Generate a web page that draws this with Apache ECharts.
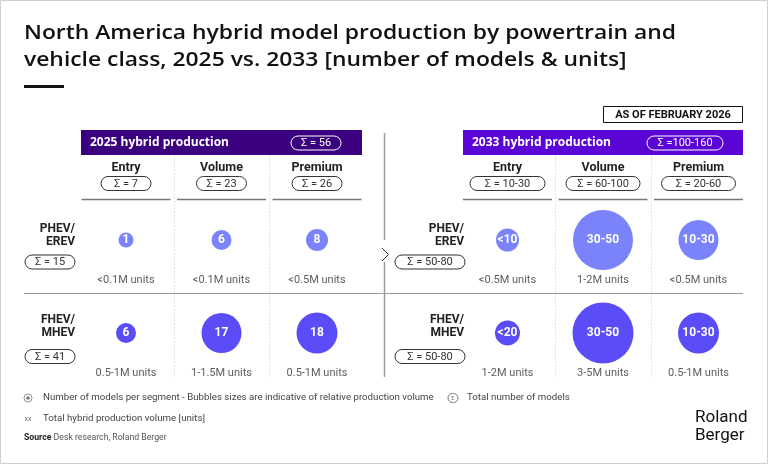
<!DOCTYPE html>
<html><head><meta charset="utf-8">
<script src="https://cdn.jsdelivr.net/npm/echarts@6/dist/echarts.min.js"></script>
<style>html,body{margin:0;padding:0;background:#fff}#c{width:768px;height:464px}</style>
</head><body><div id="c"></div>
<script>
// ---- data ----
const vehicleClasses = ['Entry', 'Volume', 'Premium'];
const powertrains = ['PHEV/EREV', 'FHEV/MHEV'];
const models2025 = [['1', '6', '8'], ['6', '17', '18']];
const models2033 = [['<10', '30-50', '10-30'], ['<20', '30-50', '10-30']];
const relVolume2025 = [[15, 20, 22], [20, 40, 41]];
const relVolume2033 = [[23, 60, 40], [25, 61, 41]];
const units2025 = [['<0.1M units', '<0.1M units', '<0.5M units'], ['0.5-1M units', '1-1.5M units', '0.5-1M units']];
const units2033 = [['<0.5M units', '1-2M units', '<0.5M units'], ['1-2M units', '3-5M units', '0.5-1M units']];
const classTotals2025 = ['7', '23', '26'];
const classTotals2033 = ['10-30', '60-100', '20-60'];
const rowTotals2025 = ['15', '41'];
const rowTotals2033 = ['50-80', '50-80'];
const total2025 = '56';
const total2033 = '100-160';

// ---- style ----
const F = 'Roboto, "Noto Sans", sans-serif';
const FO = '"Open Sans", Roboto, sans-serif';
const rowColors = ['#7b83fa', '#5a4cf6'];
const panels = [
  { left: 78.25, barX: 81, barW: 281, color: '#3a0080', title: '2025 hybrid production', total: 'Σ = ' + total2025, pillCx: 316, pillW: 50,
    classT: classTotals2025, rowT: rowTotals2025, models: models2025, rel: relVolume2025, units: units2025, pillWs: [50, 50, 50], rowLabelX: 75, rowPillCx: 50, rowPillW: 50 },
  { left: 459.75, barX: 463, barW: 280, color: '#5a05d6', title: '2033 hybrid production', total: 'Σ =' + total2033, pillCx: 685, pillW: 76,
    classT: classTotals2033, rowT: rowTotals2033, models: models2033, rel: relVolume2033, units: units2033, pillWs: [75, 74, 74], rowLabelX: 464, rowPillCx: 430, rowPillW: 70 }
];
const colStep = 95.5, gridW = 286.5, gridTop = 193.5, gridH = 186;

const mctx = document.createElement('canvas').getContext('2d');
function measure(text, font) { mctx.font = font; return mctx.measureText(text).width; }

function txt(x, y, text, font, fill, align) {
  return { type: 'text', x: x, y: y, silent: true,
    style: { text: text, font: font, fill: fill || '#222', align: align || 'left', verticalAlign: 'middle',
      textAlign: align || 'left', textVerticalAlign: 'middle' } };
}
function pill(cx, cy, w, h, text, stroke, font) {
  return [
    { type: 'rect', shape: { x: cx - w / 2, y: cy - h / 2, width: w, height: h, r: h / 2 }, style: { fill: 'transparent', stroke: stroke, lineWidth: 1 }, silent: true },
    txt(cx, cy + 0.5, text, font || '11px ' + F, stroke, 'center')
  ];
}
function line(x1, y1, x2, y2, stroke, lw, dash) {
  return { type: 'line', shape: { x1: x1, y1: y1, x2: x2, y2: y2 }, style: { stroke: stroke, lineWidth: lw || 1, lineDash: dash || null }, silent: true };
}

let g = [];
g.push({ type: 'rect', shape: { x: 0.5, y: 0.5, width: 767, height: 463 }, style: { fill: '#fff', stroke: '#cfcfcf', lineWidth: 1 }, silent: true, z: -10 });
const titleFont = '600 20px ' + FO;
const title1 = 'North America hybrid model production by powertrain and';
const title2 = 'vehicle class, 2025 vs. 2033 [number of models & units]';
const tScale = 652 / measure(title1, titleFont);
const t1 = txt(24, 33, title1, titleFont, '#111'); t1.scaleX = tScale; g.push(t1);
const t2 = txt(24, 60, title2, titleFont, '#111'); t2.scaleX = tScale; g.push(t2);
g.push({ type: 'rect', shape: { x: 24, y: 85, width: 40, height: 3 }, style: { fill: '#111' }, silent: true });
g.push({ type: 'rect', shape: { x: 603.5, y: 106.5, width: 139, height: 16 }, style: { fill: '#fff', stroke: '#111', lineWidth: 1 }, silent: true });
g.push(txt(673, 115, 'AS OF FEBRUARY 2026', 'bold 11px ' + F, '#111', 'center'));

panels.forEach(function (p) {
  g.push({ type: 'rect', shape: { x: p.barX, y: 130, width: p.barW, height: 25 }, style: { fill: p.color }, silent: true });
  g.push(txt(p.barX + 9, 142.5, p.title, 'bold 12px ' + FO, '#fff'));
  g = g.concat(pill(p.pillCx, 143, p.pillW, 14, p.total, '#fff', '11px ' + F));
  vehicleClasses.forEach(function (c, i) {
    const cx = p.left + colStep * (i + 0.5);
    g.push(txt(cx, 168, c, 'bold 12.5px ' + F, '#222', 'center'));
    g = g.concat(pill(cx, 183.5, p.pillWs[i], 14, 'Σ = ' + p.classT[i], '#333'));
    g.push(line(cx - 44.5, 199.5, cx + 44.5, 199.5, '#777', 1.3));
    if (i > 0) {
      const sx = Math.round(p.left + colStep * i) + 0.5;
      g.push(line(sx, 155, sx, 377, '#e2e2e2', 1, [2, 1.5]));
    }
  });
  powertrains.forEach(function (pt, r) {
    const parts = pt.split('/');
    const top = r === 0 ? 229 : 320;
    g.push(txt(p.rowLabelX, top, parts[0] + '/', 'bold 12px ' + F, '#222', 'right'));
    g.push(txt(p.rowLabelX, top + 13, parts[1], 'bold 12px ' + F, '#222', 'right'));
    g = g.concat(pill(p.rowPillCx, r === 0 ? 262 : 356.5, p.rowPillW, 14, 'Σ = ' + p.rowT[r], '#333'));
  });
});
g.push(line(24, 293.5, 743, 293.5, '#9a9a9a', 1));
g.push(line(384.5, 133, 384.5, 240, '#9a9a9a', 1.5));
g.push(line(384.5, 262, 384.5, 377, '#9a9a9a', 1.5));
g.push({ type: 'polyline', shape: { points: [[382, 248], [388.5, 254.5], [382, 261]] }, style: { stroke: '#333', fill: null, lineWidth: 1 }, silent: true });

// legend / footer
g.push({ type: 'circle', shape: { cx: 28, cy: 398, r: 4 }, style: { fill: '#fff', stroke: '#777', lineWidth: 0.8 }, silent: true });
g.push({ type: 'circle', shape: { cx: 28, cy: 398, r: 1.8 }, style: { fill: '#777' }, silent: true });
g.push(txt(43, 398, 'Number of models per segment - Bubbles sizes are indicative of relative production volume', '9.7px ' + F, '#444'));
g = g.concat(pill(453, 398, 10, 9, 'Σ', '#777', '6px ' + F));
g.push(txt(467, 398, 'Total number of models', '9.7px ' + F, '#444'));
g.push(txt(28, 419, 'xx', '7px ' + F, '#666', 'center'));
g.push(txt(43, 418.5, 'Total hybrid production volume [units]', '9.7px ' + F, '#444'));
g.push({ type: 'text', x: 24, y: 438, silent: true, style: { text: '{b|Source} Desk research, Roland Berger', font: '8.7px ' + F, fill: '#555', verticalAlign: 'middle', textVerticalAlign: 'middle',
  rich: { b: { fontWeight: 'bold', fontSize: 8.7, fontFamily: F, fill: '#222' } } } });
g.push(txt(695, 418, 'Roland', '17px ' + F, '#111'));
g.push(txt(695, 436, 'Berger', '17px ' + F, '#111'));

// ---- chart ----
const grids = [], xAxes = [], yAxes = [], series = [];
panels.forEach(function (p, k) {
  grids.push({ left: p.left, width: gridW, top: gridTop, height: gridH });
  xAxes.push({ type: 'value', gridIndex: k, min: 0, max: 3, show: false });
  yAxes.push({ type: 'category', gridIndex: k, data: powertrains, inverse: true, show: false });
  const bub = [], uni = [];
  powertrains.forEach(function (pt, r) {
    vehicleClasses.forEach(function (c, i) {
      bub.push({ value: [i + 0.5, r], name: p.models[r][i], symbolSize: p.rel[r][i], itemStyle: { color: rowColors[r], opacity: 1 } });
      uni.push({ value: [i + 0.5, r], name: p.units[r][i] });
    });
  });
  series.push({ type: 'scatter', xAxisIndex: k, yAxisIndex: k, data: bub, symbol: 'circle', silent: true, itemStyle: { opacity: 1 },
    label: { show: true, position: 'inside', formatter: '{b}', color: '#fff', fontWeight: 'bold', fontFamily: F, fontSize: 12 } });
  series.push({ type: 'scatter', xAxisIndex: k, yAxisIndex: k, data: uni, symbolSize: 1, itemStyle: { color: 'transparent' }, silent: true,
    label: { show: true, position: 'inside', offset: [0, 40], formatter: '{b}', color: '#333', fontFamily: F, fontSize: 11 } });
});

const chart = echarts.init(document.getElementById('c'), null, { renderer: 'canvas' });
chart.setOption({ animation: false, backgroundColor: '#fff', grid: grids, xAxis: xAxes, yAxis: yAxes, series: series, graphic: { elements: g } });
</script></body></html>
